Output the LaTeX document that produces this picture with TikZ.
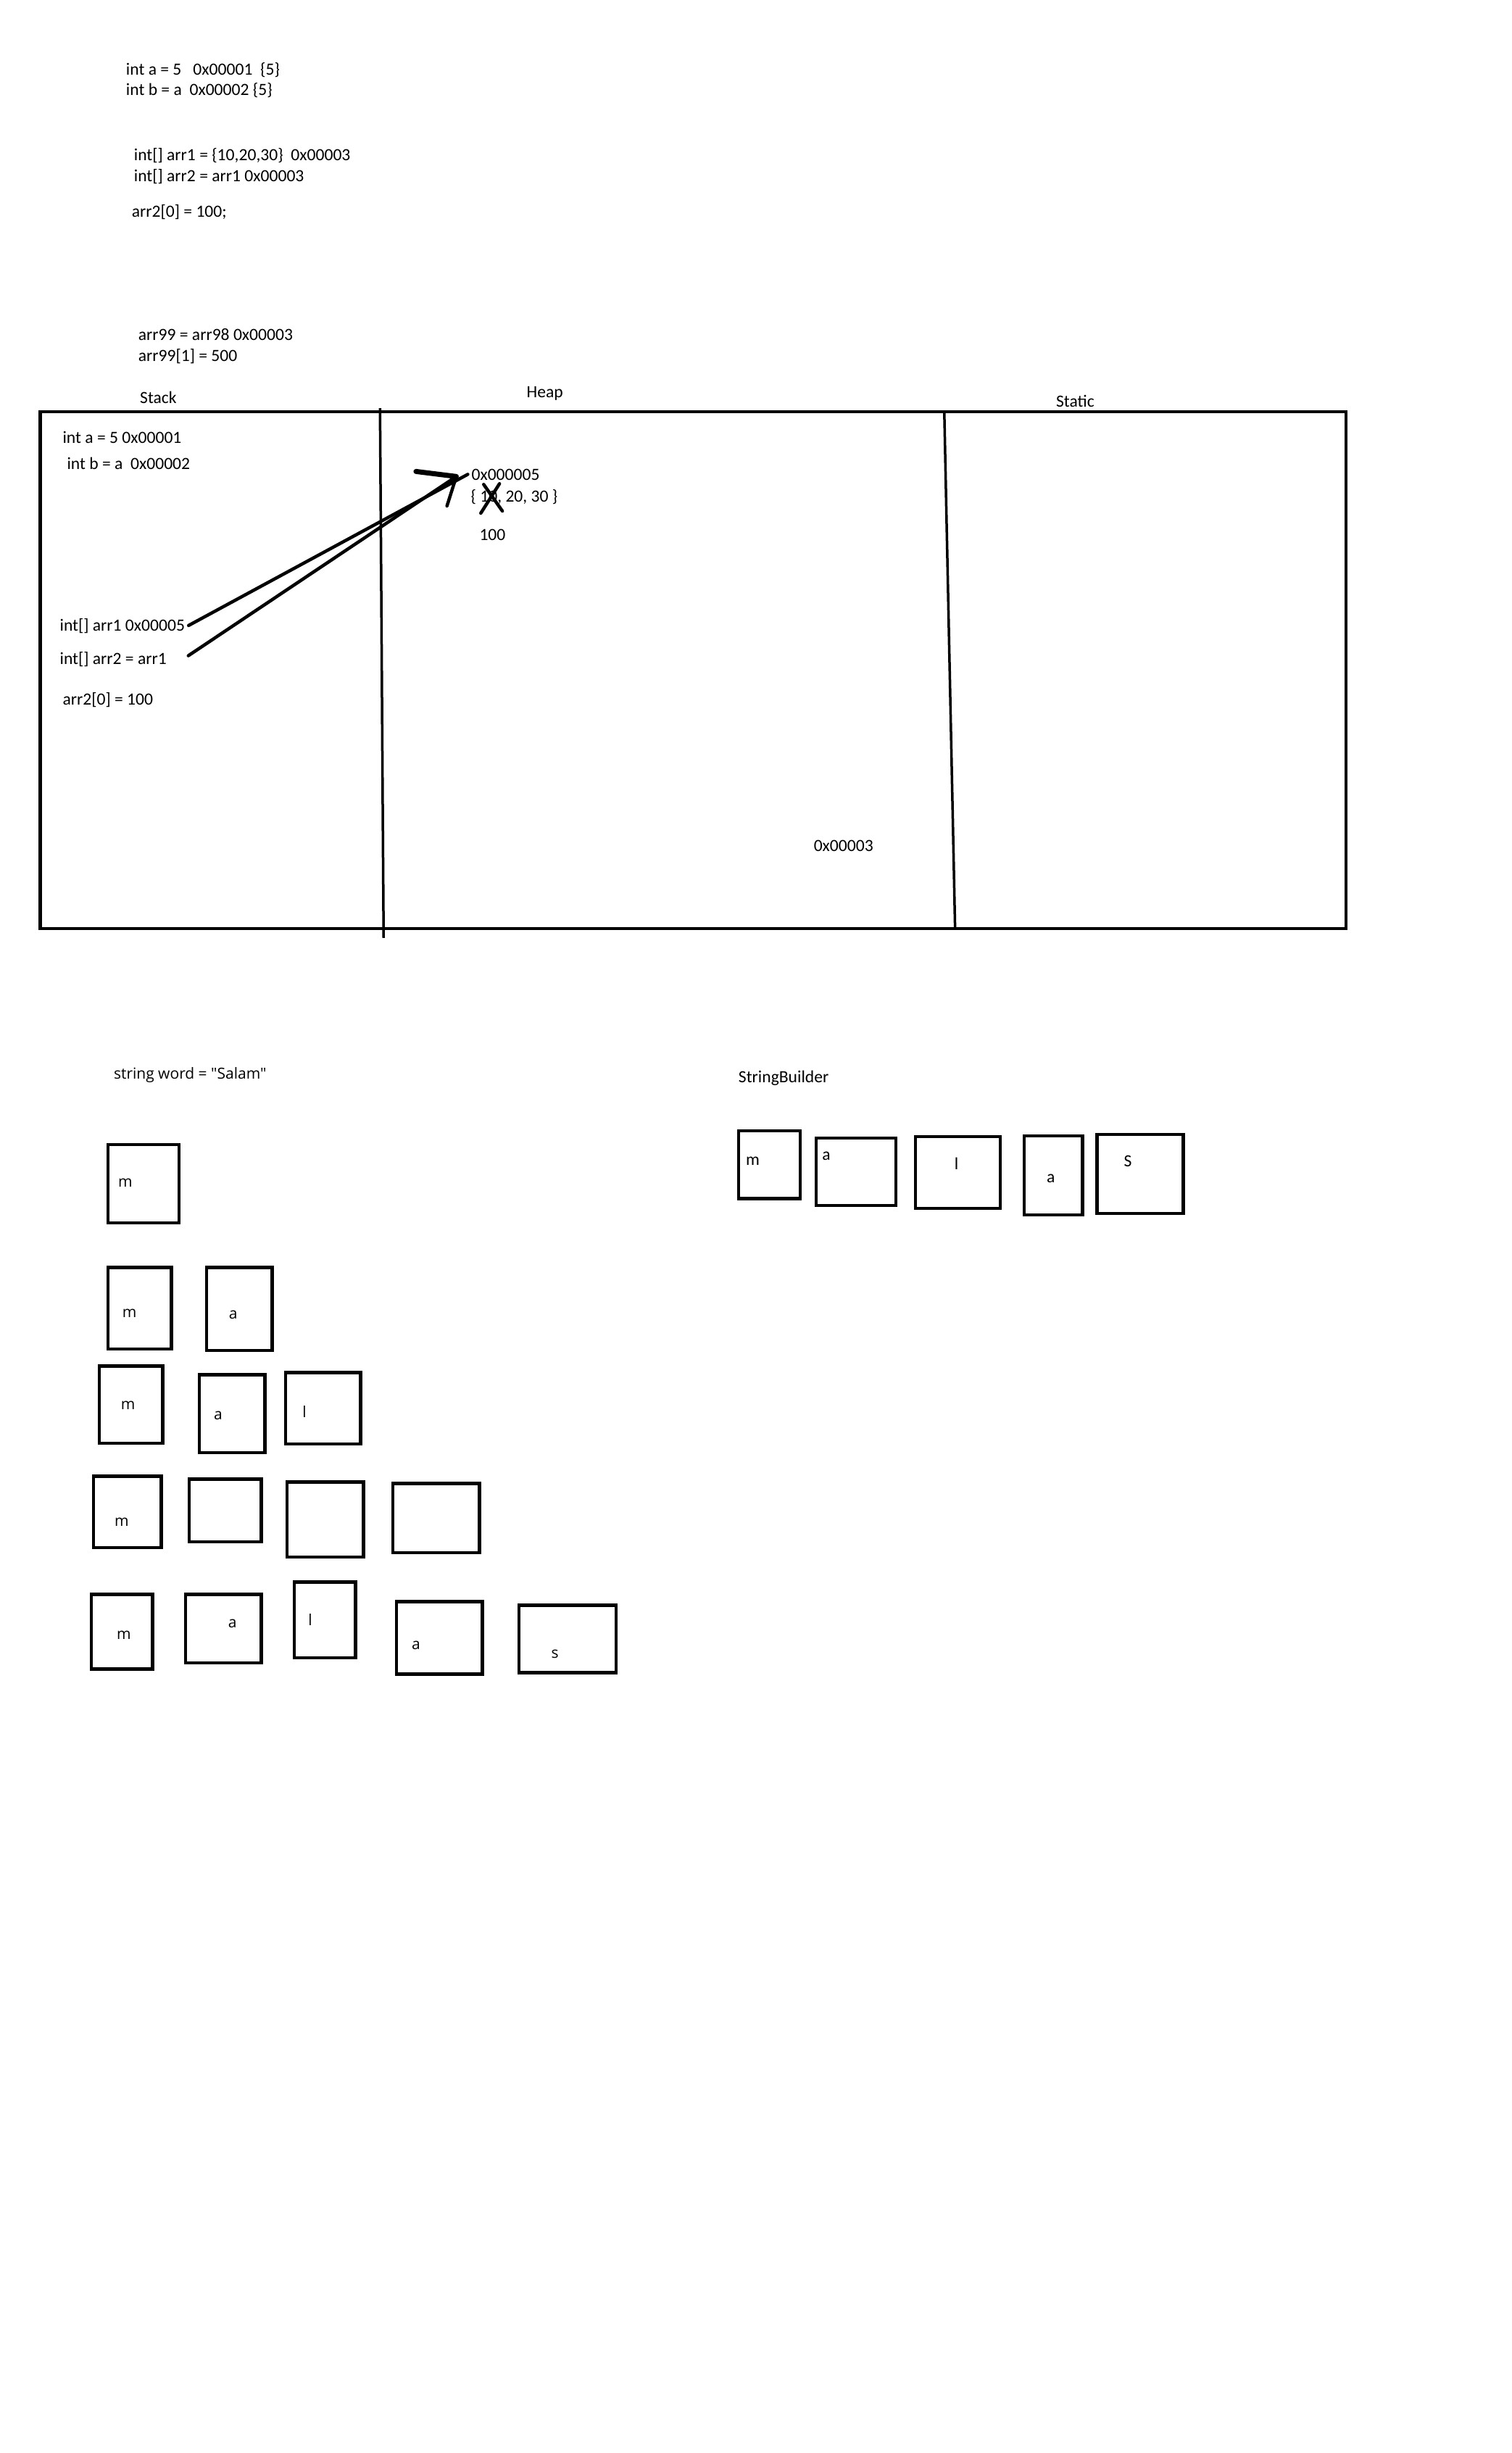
\documentclass[tikz,border=0pt]{standalone}
\usepackage{fontspec}
\setmainfont{Carlito}
\newfontfamily\segoe{Open Sans}[Ligatures=TeXOff]
\usepackage{tikz}

\begin{document}
\begin{tikzpicture}[x=0.993pt,y=-0.993pt]
\tikzset{
    lbl/.style={%
        inner sep=0pt,
        anchor=west,
        text height=15.5pt,
        text depth=0pt,
        font=\fontsize{23.6}{28}\selectfont
        },
    cb/.style={%
        inner sep=0pt,
        font=\fontsize{23.6}{28}\selectfont
        },
    ch/.style={%
        inner sep=0pt,
        font=\segoe\fontsize{21}{25}\selectfont
        },
    cell/.style={%
        draw=black,
        line width=4.5pt
        },
    ptr/.style={%
        line width=4.5pt,
        line cap=round
        },
}
\path[use as bounding box, fill=white] (0,0) rectangle (2100,3408);
%%%CODE
\node[lbl] (ta) at (175,96) {int a = 5\ \ \ 0x00001\ \ \{5\}};
\node[lbl] (tb) at (175,125) {int b = a\ \ 0x00002 \{5\}};
\node[lbl] (tarr1) at (186,215) {int[] arr1 = \{10,20,30\}\ \ 0x00003};
\node[lbl] (tarr2) at (186,244) {int[] arr2 = arr1 0x00003};
\node[lbl] (tset) at (183,294) {arr2[0] = 100;};
\node[lbl] (t99) at (192,465) {arr99 = arr98 0x00003};
\node[lbl] (t99set) at (192,494) {arr99[1] = 500};
%%%MEMORY
\draw[line width=4.5pt] (56,572) rectangle (1870,1290);
\draw[line width=3.5pt] (528,567) -- (533,1303);
\draw[line width=3.5pt] (1312,572) -- (1327,1290);
\node[cb] (stack) at (220,552) {Stack};
\node[cb] (heap) at (757,547) {Heap};
\node[cb] (static) at (1494,557) {Static};
%%%STACK
\node[lbl] (stA) at (87,608) {int a = 5 0x00001};
\node[lbl] (stB) at (93,644) {int b = a\ \ 0x00002};
\node[lbl] (arr1) at (83,869) {int[] arr1 0x00005};
\node[lbl] (arr2) at (83,915) {int[] arr2 = arr1};
\node[lbl] (stSet) at (87,972) {arr2[0] = 100};
%%%HEAP
\node[lbl] (addr) at (655,659) {0x000005};
\node[lbl] (vals) at (654,690) {\{ 10, 20, 30 \}};
\node[lbl] (hundred) at (666,743) {100};
\node[cb] (addr3) at (1172,1175) {0x00003};
%%%POINTERS
\coordinate (tip) at (634,662);
\draw[ptr] ([xshift=5pt]arr1.east) -- ([xshift=-5pt]addr.west);
\draw[ptr] ([shift={(30,-4)}]arr2.east) -- (tip);
\draw[ptr, line width=7pt] (578,655) -- (tip);
\draw[ptr] (tip) -- (621,703);
%%%CROSS
\draw[ptr] (668,713) -- (694,672);
\draw[ptr] (672,673) -- (698,710);
%%%STRING
\node[lbl, font=\segoe\fontsize{21}{25}\selectfont, text height=15pt] (word) at (158,1491) {string word = "Salam"};
\draw[cell]
(150,1590) rectangle (249,1699)
(150,1761) rectangle (238,1874)
(287,1761) rectangle (378,1876)
(138,1898) rectangle (226,2005)
(277,1910) rectangle (368,2018)
(397,1907) rectangle (501,2006)
(130,2051) rectangle (224,2150)
(263,2055) rectangle (363,2142)
(399,2059) rectangle (505,2163)
(546,2061) rectangle (666,2157)
(127,2215) rectangle (212,2319)
(258,2215) rectangle (363,2310)
(409,2198) rectangle (494,2303)
(551,2225) rectangle (670,2326)
(721,2230) rectangle (856,2324)
;
\node[ch] (r1m) at (174,1643) {m};
\node[ch] (r2m) at (180,1825) {m};
\node[ch] (r2a) at (324,1827) {a};
\node[ch] (r3m) at (178,1953) {m};
\node[ch] (r3a) at (303,1967) {a};
\node[ch] (r3l) at (423,1961) {l};
\node[ch] (r4m) at (169,2115) {m};
\node[ch] (r5m) at (172,2272) {m};
\node[ch] (r5a) at (323,2256) {a};
\node[ch] (r5l) at (431,2250) {l};
\node[ch] (r5a2) at (578,2286) {a};
\node[ch] (r5s) at (771,2298) {s};
%%%STRINGBUILDER
\node[lbl] (sbld) at (1026,1496) {StringBuilder};
\draw[cell]
(1026,1571) rectangle (1112,1665)
(1134,1581) rectangle (1245,1675)
(1272,1579) rectangle (1390,1679)
(1423,1578) rectangle (1504,1688)
(1524,1576) rectangle (1644,1686)
;
\node[cb] (bm) at (1046,1613) {m};
\node[cb] (ba) at (1148,1606) {a};
\node[cb] (bl) at (1329,1617) {l};
\node[cb] (ba2) at (1460,1637) {a};
\node[cb] (bs) at (1567,1613) {S};
\end{tikzpicture}
\end{document}
